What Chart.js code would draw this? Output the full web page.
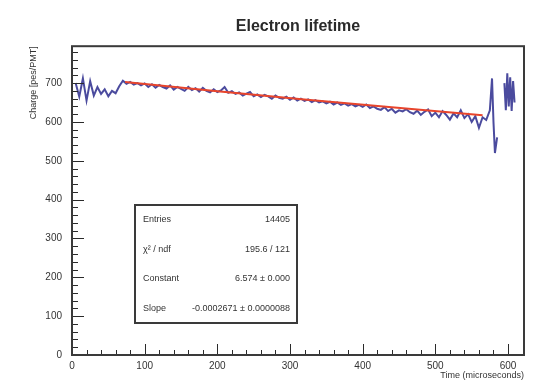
<!DOCTYPE html>
<html>
<head>
<meta charset="utf-8">
<script src="https://cdn.jsdelivr.net/npm/chart.js@4/dist/chart.umd.min.js"></script>
<style>
  html, body { margin: 0; padding: 0; background: #fff; }
  #wrap { width: 557px; height: 386px; }
</style>
</head>
<body>
<div id="wrap"><canvas id="lifetimeChart" width="557" height="386"></canvas></div>
<script>
var timeValues = [
  5, 10, 15, 20, 25, 30, 35, 40, 45, 50, 55, 60, 65, 70, 75, 80, 85, 90, 95, 100,
  105, 110, 115, 120, 125, 130, 135, 140, 145, 150, 155, 160, 165, 170, 175, 180, 185, 190, 195, 200,
  205, 210, 215, 220, 225, 230, 235, 240, 245, 250, 255, 260, 265, 270, 275, 280, 285, 290, 295, 300,
  305, 310, 315, 320, 325, 330, 335, 340, 345, 350, 355, 360, 365, 370, 375, 380, 385, 390, 395, 400,
  405, 410, 415, 420, 425, 430, 435, 440, 445, 450, 455, 460, 465, 470, 475, 480, 485, 490, 495, 500,
  505, 510, 515, 520, 525, 530, 535, 540, 545, 550, 555, 560, 565, 570, 575, 578, 580, 582, 585,
  590, 595, 597, 599, 601, 603, 605, 607, 609
];
var chargeValues = [
  700, 665, 712, 655, 705, 668, 690, 672, 684, 666, 680, 674, 692, 706, 698, 703, 696, 700, 694, 699,
  690, 697, 688, 695, 690, 686, 694, 683, 690, 685, 680, 690, 682, 687, 678, 688, 680, 676, 684, 677,
  681, 690, 675, 679, 672, 676, 668, 673, 677, 666, 671, 664, 670, 666, 660, 668, 662, 660, 665, 657,
  663, 655, 660, 654, 658, 651, 656, 650, 653, 648, 652, 645, 650, 644, 648, 642, 646, 640, 644, 639,
  645, 636, 640, 634, 631, 638, 628, 634, 624, 630, 627, 633, 625, 621, 629, 618, 626, 632, 615, 624,
  612, 628, 618, 606, 622, 612, 630, 610, 620, 600, 615, 585, 612, 605, 630, 712, 600, 520, 560,
  null, 700, 630, 725, 640, 715, 628, 705, 650
];

// exponential fit, read at a few points along the red line
var fitTimes = [73, 200, 320, 440, 565];
var fitValues = [703, 679, 658, 638, 617];

var xTickValues = [0, 100, 200, 300, 400, 500, 600];
var yTickValues = [0, 100, 200, 300, 400, 500, 600, 700];

var statLabels = ["Entries", "\u03c7\u00b2 / ndf", "Constant", "Slope"];
var statValues = ["14405", "195.6 / 121", "6.574 \u00b1 0.000", "-0.0002671 \u00b1 0.0000088"];

function toPoints(xs, ys) {
  return xs.map(function (x, i) { return { x: x, y: ys[i] }; });
}

// ROOT-style frame, inward ticks and stats box
var rootFrame = {
  id: "rootFrame",
  afterDraw: function (chart) {
    var c = chart.ctx, a = chart.chartArea;
    var xs = chart.scales.x, ys = chart.scales.y;
    c.save();
    c.strokeStyle = "#2a2a2a";
    c.lineWidth = 1;
    var v, p, len;
    for (v = 0; v <= xs.max; v += 20) {
      p = Math.round(xs.getPixelForValue(v)) + 0.5;
      len = v % 100 === 0 ? 11 : 5;
      c.beginPath(); c.moveTo(p, a.bottom); c.lineTo(p, a.bottom - len); c.stroke();
    }
    for (v = 0; v <= ys.max; v += 20) {
      p = Math.round(ys.getPixelForValue(v)) + 0.5;
      len = v % 100 === 0 ? 12 : 6;
      c.beginPath(); c.moveTo(a.left, p); c.lineTo(a.left + len, p); c.stroke();
    }
    c.lineWidth = 2;
    c.strokeStyle = "#3a3a3a";
    c.strokeRect(a.left, a.top, a.right - a.left, a.bottom - a.top);

    // stats box
    var bx = 135, by = 205, bw = 162, bh = 118;
    c.fillStyle = "#fff";
    c.fillRect(bx, by, bw, bh);
    c.lineWidth = 2;
    c.strokeStyle = "#3a3a3a";
    c.strokeRect(bx, by, bw, bh);
    c.fillStyle = "#333";
    c.font = "9px 'Liberation Sans', Arial, sans-serif";
    c.textBaseline = "middle";
    var rowH = bh / statLabels.length;
    for (var i = 0; i < statLabels.length; i++) {
      var ry = by + rowH * (i + 0.5);
      c.textAlign = "left";
      c.fillText(statLabels[i], bx + 8, ry);
      c.textAlign = "right";
      c.fillText(statValues[i], bx + bw - 7, ry);
    }
    c.restore();
  }
};

var ctx = document.getElementById("lifetimeChart").getContext("2d");
var lifetimeChart = new Chart(ctx, {
  type: "line",
  data: {
    datasets: [
      {
        label: "fit",
        data: toPoints(fitTimes, fitValues),
        borderColor: "#e8452c",
        borderWidth: 2,
        pointRadius: 0,
        fill: false,
        order: 0,
      },
      {
        label: "charge",
        data: toPoints(timeValues, chargeValues),
        borderColor: "#4b4b9e",
        borderWidth: 2,
        pointRadius: 0,
        spanGaps: false,
        fill: false,
        order: 1,
      },
    ],
  },
  options: {
    responsive: false,
    animation: false,
    layout: {
      padding: { left: 0, right: 33, top: 0, bottom: 0 },
    },
    plugins: {
      legend: { display: false },
      tooltip: { enabled: false },
      title: {
        display: true,
        text: "Electron lifetime",
        fullSize: false,
        color: "#2a2a2a",
        font: { family: "'Liberation Sans', Arial, sans-serif", size: 16, weight: "bold" },
        padding: { top: 17, bottom: 10 },
      },
    },
    scales: {
      x: {
        type: "linear",
        min: 0,
        max: 622,
        grid: { display: false, drawTicks: false },
        border: { display: false },
        afterBuildTicks: function (scale) {
          scale.ticks = xTickValues.map(function (v) { return { value: v }; });
        },
        ticks: {
          padding: 5,
          color: "#333",
          font: { family: "'Liberation Sans', Arial, sans-serif", size: 10 },
          maxRotation: 0,
        },
        title: {
          display: true,
          text: "Time (microseconds)",
          align: "end",
          color: "#333",
          font: { family: "'Liberation Sans', Arial, sans-serif", size: 9 },
          padding: { top: 0, bottom: 5 },
        },
        afterFit: function (scale) { scale.height = 31; },
      },
      y: {
        type: "linear",
        min: 0,
        max: 795,
        grid: { display: false, drawTicks: false },
        border: { display: false },
        afterBuildTicks: function (scale) {
          scale.ticks = yTickValues.map(function (v) { return { value: v }; });
        },
        ticks: {
          padding: 10,
          color: "#333",
          font: { family: "'Liberation Sans', Arial, sans-serif", size: 10 },
        },
        title: {
          display: true,
          text: "Charge [pes/PMT]",
          align: "end",
          color: "#333",
          font: { family: "'Liberation Sans', Arial, sans-serif", size: 9 },
          padding: { top: 28, bottom: 0 },
        },
        afterFit: function (scale) { scale.width = 72; },
      },
    },
  },
  plugins: [rootFrame],
});
</script>
</body>
</html>
